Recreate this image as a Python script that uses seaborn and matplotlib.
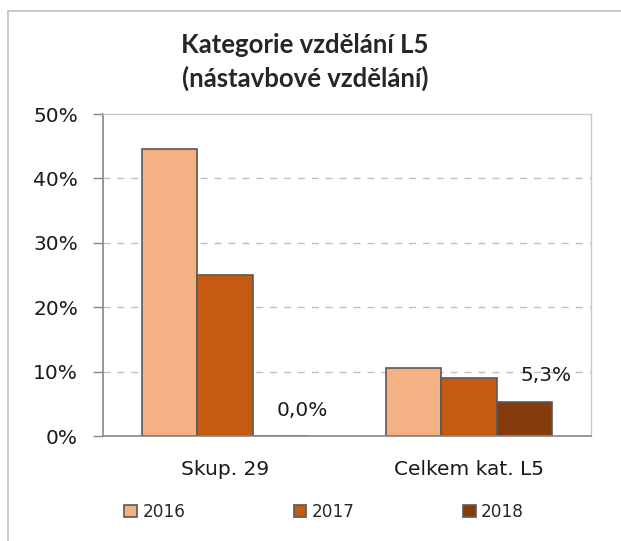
import numpy as np
import pandas as pd
import matplotlib.pyplot as plt
import matplotlib.patches as mpatches
import seaborn as sns

categories = ["Skup. 29", "Celkem kat. L5"]
years = ["2016", "2017", "2018"]
values_2016 = [0.445, 0.106]
values_2017 = [0.250, 0.090]
values_2018 = [0.000, 0.053]
labelled_year = "2018"

colors = ["#F4B183", "#C55A11", "#843C0C"]

rows = []
for yr, vals in zip(years, [values_2016, values_2017, values_2018]):
    for cat, v in zip(categories, vals):
        rows.append({"kategorie": cat, "rok": yr, "podil": v})
df = pd.DataFrame(rows)

sns.set_style("white")
plt.rcParams["font.family"] = ["DejaVu Sans"]

W, H = 621, 541
fig = plt.figure(figsize=(W / 100, H / 100), dpi=100)
ax = fig.add_axes([103 / W, 105 / H, (591 - 103) / W, (436 - 114) / H])

sns.barplot(data=df, x="kategorie", y="podil", hue="rok", order=categories,
            hue_order=years, palette=colors, width=0.68, errorbar=None,
            edgecolor="#595959", linewidth=1.2, saturation=1, ax=ax, legend=False)

ax.set_xlim(-0.5, 1.5)
ax.set_ylim(0, 0.5)
ax.set_xlabel("")
ax.set_ylabel("")

yt = [0, 0.1, 0.2, 0.3, 0.4, 0.5]
ax.set_yticks(yt)
ax.set_yticklabels([f"{int(round(t * 100))}%" for t in yt])
for t in yt[1:-1]:
    ax.axhline(t, color="#BFBFBF", linestyle=(0, (5, 5)), linewidth=1, zorder=0)

ax.set_xticks([-0.5, 0.5, 1.5])
ax.set_xticklabels(["", "", ""])
ax.set_xticks([0, 1], minor=True)
ax.set_xticklabels(categories, minor=True)
ax.tick_params(axis="x", which="major", length=7, width=1, color="#868686", direction="out")
ax.tick_params(axis="x", which="minor", length=0, pad=17, labelsize=14.5, labelcolor="#1a1a1a")
ax.tick_params(axis="y", length=7, width=1, color="#868686", direction="out", pad=11,
               labelsize=14.5, labelcolor="#1a1a1a", left=True)

for side in ["top", "right"]:
    ax.spines[side].set_visible(True)
    ax.spines[side].set_color("#C8C8C8")
    ax.spines[side].set_linewidth(1)
for side in ["left", "bottom"]:
    ax.spines[side].set_color("#868686")
    ax.spines[side].set_linewidth(1.2)

# data labels for the last year
cont = ax.containers[years.index(labelled_year)]
for bar, v in zip(cont, values_2018):
    ax.annotate(f"{v * 100:.1f}%".replace(".", ","),
                (bar.get_x() + bar.get_width() / 2, bar.get_height()),
                xytext=(22, 26), textcoords="offset pixels", ha="center", va="center",
                fontsize=14.5, color="#1a1a1a")

fig.text(305 / W, (541 - 45) / H, "Kategorie vzdělání L5", ha="center", va="center",
         fontsize=18.5, fontweight="bold", family="Lato")
fig.text(305 / W, (541 - 78) / H, "(nástavbové vzdělání)", ha="center", va="center",
         fontsize=18.5, fontweight="bold", family="Lato")

handles = [mpatches.Patch(facecolor=c, edgecolor="#595959", linewidth=1.2, label=y)
           for c, y in zip(colors, years)]
fig.legend(handles=handles, loc="center", bbox_to_anchor=(324 / W, (541 - 512) / H),
           ncol=3, frameon=False, fontsize=12.2, handlelength=0.75, handleheight=0.75,
           handletextpad=0.3, columnspacing=6.4)

fig.patches.append(mpatches.Rectangle((8 / W, -0.1), 1.2, (541 - 11) / H + 0.1,
                                      transform=fig.transFigure, facecolor="none",
                                      edgecolor="#C0C0C0", linewidth=1.2, clip_on=False))

fig.savefig("out.png", dpi=100)
